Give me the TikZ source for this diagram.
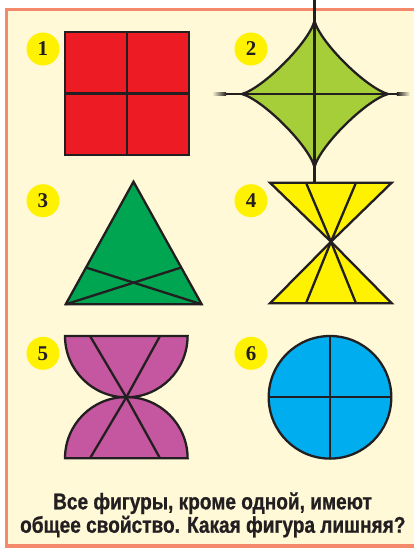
\documentclass[tikz,border=0pt]{standalone}
\usepackage{fontspec}
\usetikzlibrary{calc}
\newfontfamily\qfont[FakeStretch=0.84, BoldFeatures={FakeBold=0.8}]{Liberation Sans}
\newfontfamily\numfont{Liberation Serif}
\definecolor{ink}{HTML}{231F20}
\definecolor{cream}{HTML}{FFF9D8}
\definecolor{frame}{HTML}{F5896C}
\definecolor{badge}{HTML}{FFF200}
\definecolor{cred}{HTML}{ED1C24}
\definecolor{clime}{HTML}{A6CE39}
\definecolor{cgreen}{HTML}{00A551}
\definecolor{cyellow}{HTML}{FFF200}
\definecolor{cmag}{HTML}{C4579F}
\definecolor{cblue}{HTML}{00AEEF}
\tikzset{
  numbadge/.style={circle, fill=badge, minimum size=33pt, inner sep=0pt, text=ink, font=\numfont\bfseries\fontsize{21}{21}\selectfont},
  outl/.style={draw=ink, line width=2.3pt},
  inl/.style={draw=ink, line width=2.3pt},
  qline/.style={text=ink, font=\qfont\bfseries\fontsize{22.7}{23}\selectfont, inner sep=0pt, anchor=base},
}
\begin{document}
\begin{tikzpicture}[x=1pt,y=-1pt]
\useasboundingbox (0,0) rectangle (414,549);
\fill[white] (0,0) rectangle (414,549);
\fill[frame] (5,7.5) rectangle (420,547.6);
\fill[cream] (8.4,11) rectangle (420,544.3);

% number badges
\node[numbadge] (n1) at (43,49) {1};
\node[numbadge] (n2) at (251,49) {2};
\node[numbadge] (n3) at (43,200.7) {3};
\node[numbadge] (n4) at (251,200.7) {4};
\node[numbadge] (n5) at (43,353.3) {5};
\node[numbadge] (n6) at (251,353.3) {6};

% 1: square
\fill[cred] (65,32) rectangle (189,155);
\draw[inl] (127,32) -- (127,155) (65,93.5) -- (189,93.5);
\draw[outl] (65,32) rectangle (189,155);

% 2: star with concave sides
\coordinate (st) at (314.5,21);
\coordinate (sr) at (388,94);
\coordinate (sb) at (314.5,167);
\coordinate (sl) at (242,94);
\def\starpath{(st) .. controls (320.5,43) and (366.5,88) .. (sr)
  .. controls (366.5,100) and (320.5,145) .. (sb)
  .. controls (308.5,145) and (263,100) .. (sl)
  .. controls (263,88) and (308.5,43) .. (st) -- cycle}
\fill[clime] \starpath;
\draw[inl] (314.5,0) -- (314.5,183);
\draw[inl] (226,94) -- (397,94);
\shade[left color=cream, right color=ink] (212,92.85) rectangle (226.2,95.15);
\shade[left color=ink, right color=cream] (396.8,92.85) rectangle (410,95.15);
\draw[outl] \starpath;

% 3: triangle
\coordinate (ta) at (133.5,181.7);
\coordinate (tl) at (65.7,304.3);
\coordinate (tr) at (201.7,304.3);
\fill[cgreen] (ta) -- (tl) -- (tr) -- cycle;
\draw[inl] (tl) -- ($(ta)!0.7!(tr)$);
\draw[inl] (tr) -- ($(ta)!0.7!(tl)$);
\draw[outl] (ta) -- (tl) -- (tr) -- cycle;

% 4: hourglass of triangles
\coordinate (hc) at (331,241.7);
\coordinate (h1) at (270,182.7);
\coordinate (h2) at (391.7,182.7);
\coordinate (h3) at (270,303.3);
\coordinate (h4) at (391.7,303.3);
\fill[cyellow] (h1) -- (h2) -- (hc) -- cycle;
\fill[cyellow] (h3) -- (h4) -- (hc) -- cycle;
\draw[inl] (306,182.7) -- (hc) -- (356,303.3);
\draw[inl] (356,182.7) -- (hc) -- (306,303.3);
\draw[outl] (h1) -- (h2) -- (hc) -- cycle;
\draw[outl] (h3) -- (h4) -- (hc) -- cycle;

% 5: two half discs
\coordinate (pc) at (126.3,397.3);
\fill[cmag] (65,336) -- (187.6,336) arc[start angle=0, end angle=180, radius=61.3] -- cycle;
\fill[cmag] (65,458.3) -- (187.6,458.3) arc[start angle=0, end angle=-180, radius=61.3] -- cycle;
\draw[inl] (90,336) -- (pc) -- (160,458.3);
\draw[inl] (160,336) -- (pc) -- (90,458.3);
\draw[outl] (65,336) -- (187.6,336) arc[start angle=0, end angle=180, radius=61.3] -- cycle;
\draw[outl] (65,458.3) -- (187.6,458.3) arc[start angle=0, end angle=-180, radius=61.3] -- cycle;

% 6: circle
\coordinate (cc) at (330,397.3);
\fill[cblue] (cc) circle[radius=61.3];
\draw[inl] (268.7,397.3) -- (391.3,397.3) (330,336) -- (330,458.6);
\draw[outl] (cc) circle[radius=61.3];

% question
\node[qline] (q1) at (212.5,509.3) {Все фигуры, кроме одной, имеют};
\node[qline] (q2) at (212.8,532.7) {общее свойство. Какая фигура лишняя?};
\end{tikzpicture}
\end{document}
